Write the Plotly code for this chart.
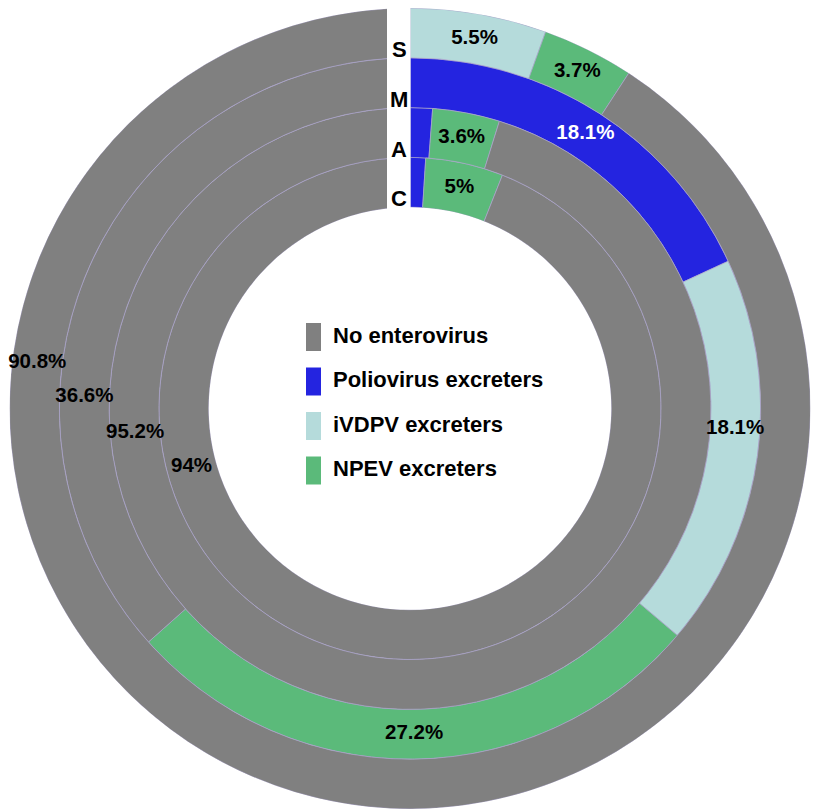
import plotly.graph_objects as go

# rings from inner to outer
rings = ["C", "A", "M", "S"]
categories = ["Poliovirus excreters", "iVDPV excreters", "NPEV excreters", "No enterovirus"]
legend_order = ["No enterovirus", "Poliovirus excreters", "iVDPV excreters", "NPEV excreters"]

# percentages per ring (C, A, M, S)
polio = [1.0, 1.2, 18.1, 0.0]
ivdpv = [0.0, 0.0, 18.1, 5.5]
npev = [5.0, 3.6, 27.2, 3.7]
no_ev = [94.0, 95.2, 36.6, 90.8]

values = {
    "Poliovirus excreters": polio,
    "iVDPV excreters": ivdpv,
    "NPEV excreters": npev,
    "No enterovirus": no_ev,
}
colors = {
    "Poliovirus excreters": "#2424e0",
    "iVDPV excreters": "#b5dbdb",
    "NPEV excreters": "#5bba7a",
    "No enterovirus": "#808080",
}
# small segments that carry no label
min_label = 2.0
# where labels sit when not at the segment middle (ring, category) -> degrees
label_theta_override = {
    ("C", "No enterovirus"): 255,
    ("A", "No enterovirus"): 265,
    ("M", "No enterovirus"): 272,
    ("S", "No enterovirus"): 277,
    ("M", "iVDPV excreters"): 93.5,
}

# page body has an 8px margin, so the figure is drawn 8px in from the window edge
PAD = 8
W, H = 819 - PAD, 809 - PAD
hole = 0.5025
FONT = "Liberation Sans, Arial"

fig = go.Figure()

label_r, label_t, label_txt, label_col = [], [], [], []
start = [0.0] * len(rings)
for cat in categories:
    vals = values[cat]
    thetas, widths, bases = [], [], []
    for i, v in enumerate(vals):
        mid = (start[i] + v / 2) * 3.6
        thetas.append(mid)
        widths.append(v * 3.6)
        bases.append(i)
        if v >= min_label:
            label_r.append(i + 0.5)
            label_t.append(label_theta_override.get((rings[i], cat), mid))
            label_txt.append(f"{v:g}%")
            label_col.append("white" if cat == "Poliovirus excreters" else "black")
        start[i] += v
    fig.add_trace(go.Barpolar(
        r=[1] * len(vals),
        base=bases,
        theta=thetas,
        width=widths,
        name=cat,
        marker=dict(color=colors[cat], line=dict(color="#aaa4cc", width=0.7)),
        showlegend=False,
        hoverinfo="skip",
    ))

fig.add_trace(go.Scatterpolar(
    r=label_r,
    theta=label_t,
    text=label_txt,
    mode="text",
    textfont=dict(family=FONT, size=20.5, color=label_col, weight="bold"),
    showlegend=False,
    hoverinfo="skip",
))

# polar geometry in figure pixels
left, right = 0, 804
R = min(right - left, H) / 2
cx = (left + right) / 2
cy = H / 2
ring_px = R * (1 - hole) / len(rings)
hole_px = R * hole

shapes = []
annotations = []
# white strip at 12 o'clock holding the ring letters
shapes.append(dict(type="rect", xref="paper", yref="paper", layer="above",
                   x0=(cx - 23) / W, x1=(cx + 0.5) / W, y0=1 - (cy - hole_px + 15) / H, y1=1,
                   fillcolor="white", line=dict(width=0)))
for i, name in enumerate(rings):
    y_px = cy - (hole_px + (i + 0.5) * ring_px) + 2
    annotations.append(dict(x=(cx - 11) / W, y=1 - y_px / H, xref="paper", yref="paper",
                            text=f"<b>{name}</b>", showarrow=False,
                            font=dict(family=FONT, size=22, color="black")))

# legend in the hole
for j, cat in enumerate(legend_order):
    yc = 337 + 44.5 * j - PAD
    x0 = 306 - PAD
    shapes.append(dict(type="rect", xref="paper", yref="paper", layer="above",
                       x0=x0 / W, x1=(x0 + 15) / W, y0=1 - (yc + 14) / H, y1=1 - (yc - 14) / H,
                       fillcolor=colors[cat], line=dict(width=0)))
    annotations.append(dict(x=(x0 + 25) / W, y=1 - (yc - 2) / H, xref="paper", yref="paper",
                            xanchor="left", text=f"<b>{cat}</b>", showarrow=False,
                            font=dict(family=FONT, size=22, color="black")))

fig.update_layout(
    width=W,
    height=H,
    margin=dict(l=0, r=0, t=0, b=0),
    paper_bgcolor="white",
    plot_bgcolor="white",
    shapes=shapes,
    annotations=annotations,
    polar=dict(
        domain=dict(x=[left / W, right / W], y=[0, 1]),
        hole=hole,
        bgcolor="white",
        radialaxis=dict(range=[0, len(rings)], visible=False, showgrid=False),
        angularaxis=dict(direction="clockwise", rotation=90, visible=False, showgrid=False),
        bargap=0,
    ),
)

fig.write_html("out.html")
